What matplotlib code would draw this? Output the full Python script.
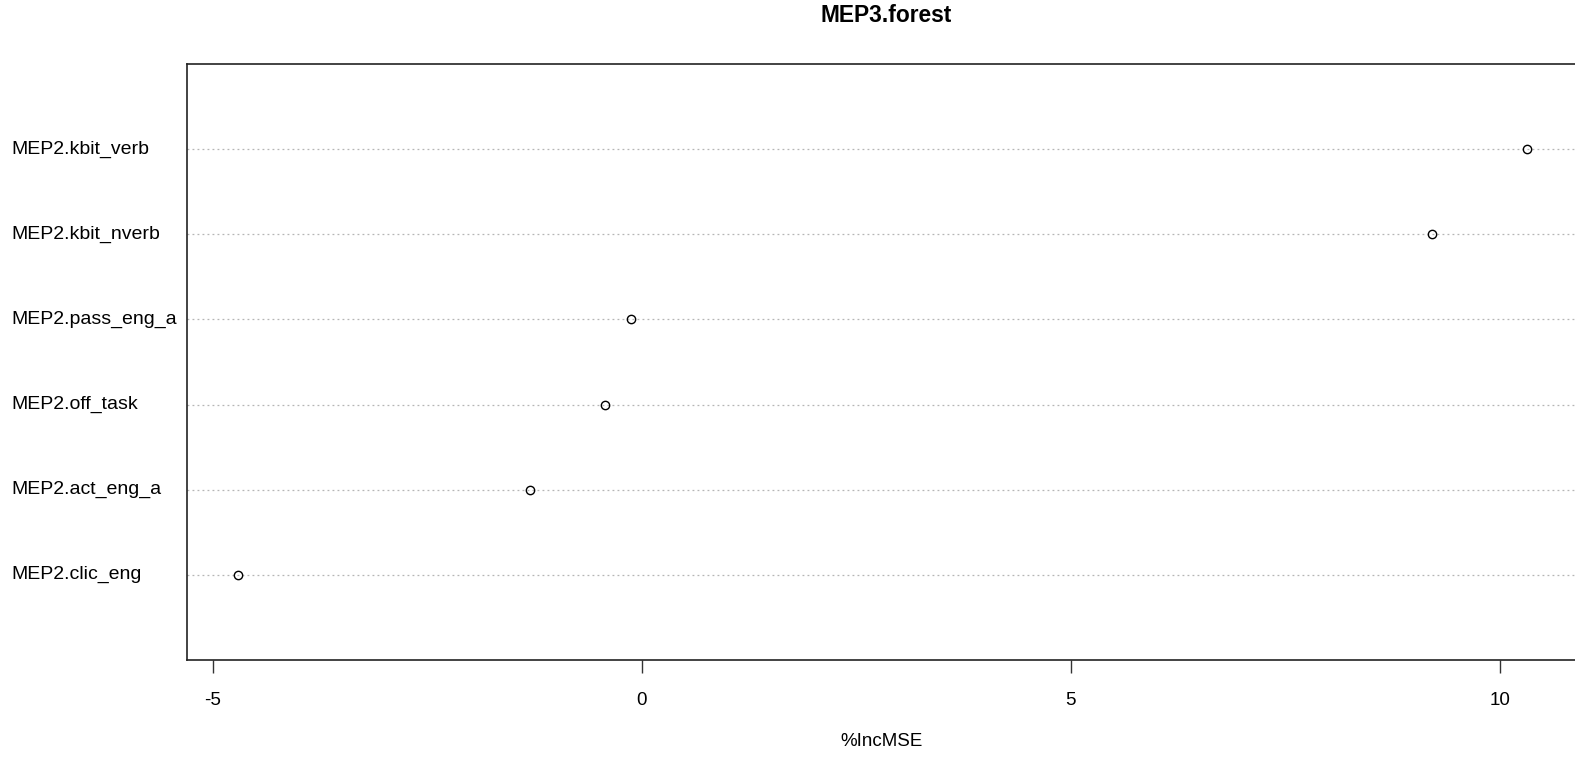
import matplotlib
matplotlib.use("Agg")
import matplotlib.pyplot as plt

plt.rcParams['font.family'] = ['Liberation Sans', 'DejaVu Sans']

# Data (bottom to top, as in R dotchart)
variables = ["MEP2.clic_eng", "MEP2.act_eng_a", "MEP2.off_task",
             "MEP2.pass_eng_a", "MEP2.kbit_nverb", "MEP2.kbit_verb"]
inc_mse = [-4.70, -1.30, -0.43, -0.13, 9.21, 10.31]
xticks = [-5, 0, 5, 10]

W, H = 1575, 757
fig = plt.figure(figsize=(W / 100, H / 100), dpi=100)
left, right, top, bottom = 187, 1578, 64, 660
ax = fig.add_axes([left / W, 1 - bottom / H, (right - left) / W, (bottom - top) / H])

ypos = list(range(1, len(variables) + 1))
for y in ypos:
    ax.axhline(y, color='#b5b5b5', linestyle=(0, (1.5, 2.5)), linewidth=0.9, zorder=1)
ax.plot(inc_mse, ypos, linestyle='none', marker='o', markersize=6,
        markerfacecolor='none', markeredgecolor='black', markeredgewidth=1.0, zorder=3)

ax.set_xlim(-5.30, 10.91)
ax.set_ylim(0, 7)
ax.set_yticks([])
ax.set_xticks(xticks)
ax.set_xticklabels([str(t) for t in xticks], fontsize=13.5)
ax.tick_params(axis='x', length=9, width=1.0, pad=14, color='#333333')
for s in ax.spines.values():
    s.set_linewidth(1.2)
    s.set_color('#222222')

for name, y in zip(variables, ypos):
    yd = ax.transData.transform((0, y))[1]
    fig.text(11 / W, yd / H, name, ha='left', va='center', fontsize=14.0)

fig.text(886 / W, 1 - 16 / H, "MEP3.forest", ha='center', va='center',
         fontsize=16.4, fontweight='bold')
fig.text(882 / W, 1 - 741 / H, "%IncMSE", ha='center', va='center', fontsize=13.5)

fig.savefig("out.png", dpi=100, facecolor='white')
